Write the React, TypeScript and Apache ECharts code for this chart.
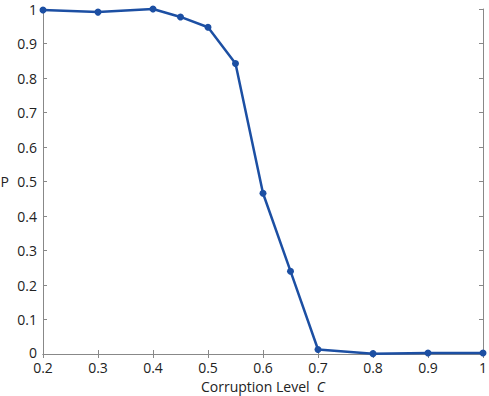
import React, { useEffect, useRef } from "react";
import * as echarts from "echarts";

const corruption = [0.2, 0.3, 0.4, 0.45, 0.5, 0.55, 0.6, 0.65, 0.7, 0.8, 0.9, 1.0];
const probability = [0.997, 0.991, 1.0, 0.977, 0.947, 0.842, 0.466, 0.24, 0.013, 0.001, 0.003, 0.003];

const FONT = "'Open Sans', sans-serif";
const AXIS_COLOR = "#888888";
const LINE_COLOR = "#1c4fa3";

export default function App() {
  const ref = useRef<HTMLDivElement>(null);
  useEffect(() => {
    if (!ref.current) return;
    const chart = echarts.init(ref.current, null, { renderer: "svg" });
    const axisLine = { show: true, lineStyle: { color: AXIS_COLOR, width: 1 } };
    const axisTick = { show: true, inside: true, length: 4, lineStyle: { color: AXIS_COLOR } };
    const label = { color: "#222", fontFamily: FONT, fontSize: 14 };
    chart.setOption({
      animation: false,
      backgroundColor: "#fff",
      grid: { left: 43, right: 6, top: 9, bottom: 42, containLabel: false, outerBoundsMode: "none" },
      xAxis: [
        {
          type: "value",
          min: 0.2,
          max: 1,
          interval: 0.1,
          position: "bottom",
          axisLine,
          axisTick,
          splitLine: { show: false },
          axisLabel: {
            ...label,
            margin: 7,
            lineHeight: 13,
            formatter: (v: number) => (Math.abs(v - 1) < 1e-9 ? "1" : v.toFixed(1)),
          },
          name: "{a|Corruption Level  }{c|C}",
          nameLocation: "middle",
          nameGap: 25,
          nameTextStyle: {
            rich: {
              a: { fontFamily: FONT, fontSize: 14, color: "#222" },
              c: { fontFamily: FONT, fontSize: 14, color: "#222", fontStyle: "italic" },
            },
          },
        },
        {
          type: "value",
          min: 0.2,
          max: 1,
          interval: 0.1,
          position: "top",
          axisLine,
          axisTick,
          axisLabel: { show: false },
          splitLine: { show: false },
        },
      ],
      yAxis: [
        {
          type: "value",
          min: 0,
          max: 1,
          interval: 0.1,
          position: "left",
          axisLine,
          axisTick,
          splitLine: { show: false },
          axisLabel: {
            ...label,
            margin: 6,
            lineHeight: 10,
            formatter: (v: number) =>
              v === 0 ? "{z|0}" : Math.abs(v - 1) < 1e-9 ? "1" : v.toFixed(1),
            rich: {
              z: { fontFamily: FONT, fontSize: 14, color: "#222", lineHeight: 10, padding: [0, 0, 4, 0] },
            },
          },
          name: "P",
          nameLocation: "middle",
          nameGap: 34,
          nameRotate: 0,
          nameTextStyle: { fontFamily: FONT, fontSize: 14, color: "#222" },
        },
        {
          type: "value",
          min: 0,
          max: 1,
          interval: 0.1,
          position: "right",
          axisLine,
          axisTick,
          axisLabel: { show: false },
          splitLine: { show: false },
        },
      ],
      series: [
        {
          type: "line",
          data: corruption.map((c, i) => [c, probability[i]]),
          symbol: "circle",
          symbolSize: 7,
          showAllSymbol: true,
          clip: false,
          lineStyle: { color: LINE_COLOR, width: 2.5 },
          itemStyle: { color: LINE_COLOR },
        },
      ],
    });
    return () => chart.dispose();
  }, []);
  return <div ref={ref} style={{ width: 489, height: 396, position: "absolute", left: 0, top: 0 }} />;
}
